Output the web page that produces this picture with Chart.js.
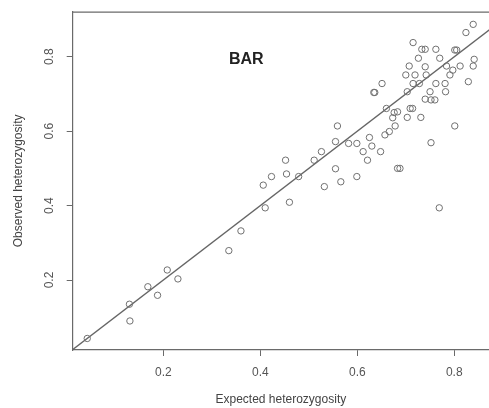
<!DOCTYPE html>
<html>
<head>
<meta charset="utf-8">
<script src="https://cdn.jsdelivr.net/npm/chart.js@4/dist/chart.umd.min.js"></script>
<style>
  html, body { margin: 0; padding: 0; background: #fff; }
  #wrap { width: 489px; height: 408px; }
</style>
</head>
<body>
<div id="wrap"><canvas id="hetChart"></canvas></div>
<script>
// expected vs observed heterozygosity
const expectedHet = [
  0.043, 0.130, 0.131, 0.168, 0.188, 0.208, 0.230, 0.335, 0.360, 0.406,
  0.410, 0.423, 0.452, 0.454, 0.460, 0.479, 0.511, 0.526, 0.532, 0.555,
  0.555, 0.559, 0.566, 0.582, 0.599, 0.599, 0.612, 0.621, 0.625, 0.630,
  0.634, 0.636, 0.648, 0.651, 0.657, 0.660, 0.666, 0.673, 0.678, 0.676,
  0.683, 0.683, 0.688, 0.703, 0.703, 0.700, 0.707, 0.709, 0.714, 0.715,
  0.715, 0.719, 0.726, 0.728, 0.731, 0.733, 0.740, 0.740, 0.742, 0.740,
  0.750, 0.752, 0.752, 0.760, 0.762, 0.762, 0.769, 0.770, 0.781, 0.782,
  0.784, 0.791, 0.797, 0.801, 0.801, 0.805, 0.812, 0.824, 0.829, 0.839,
  0.839, 0.841
];
const observedHet = [
  0.043, 0.135, 0.090, 0.182, 0.159, 0.227, 0.203, 0.279, 0.332, 0.455,
  0.394, 0.478, 0.522, 0.485, 0.409, 0.478, 0.522, 0.545, 0.451, 0.499,
  0.572, 0.614, 0.464, 0.567, 0.567, 0.478, 0.545, 0.522, 0.583, 0.560,
  0.704, 0.704, 0.545, 0.728, 0.590, 0.661, 0.599, 0.636, 0.614, 0.650,
  0.652, 0.500, 0.500, 0.637, 0.706, 0.751, 0.775, 0.661, 0.661, 0.838,
  0.728, 0.751, 0.796, 0.728, 0.637, 0.820, 0.820, 0.773, 0.751, 0.686,
  0.706, 0.569, 0.684, 0.684, 0.820, 0.728, 0.394, 0.796, 0.728, 0.706,
  0.775, 0.751, 0.764, 0.614, 0.818, 0.818, 0.775, 0.865, 0.733, 0.887,
  0.775, 0.793
];
const tickValues = [0.2, 0.4, 0.6, 0.8];
const tickLabels = ['0.2', '0.4', '0.6', '0.8'];
const xRange = [0.013, 0.8716];
const yRange = [0.012, 0.921];
const panelLabel = 'BAR';
const panelLabelAt = [0.371, 0.791];

const points = expectedHet.map((x, i) => ({ x: x, y: observedHet[i] }));
const diagonal = [{ x: 0, y: 0 }, { x: 1, y: 1 }];

const textFont = 'Liberation Sans, Arial, sans-serif';

// box top + rotated y tick labels + panel label (R style)
const extras = {
  id: 'extras',
  afterDraw(chart) {
    const ctx = chart.ctx;
    const area = chart.chartArea;
    const xs = chart.scales.x;
    const ys = chart.scales.y;
    ctx.save();
    ctx.strokeStyle = '#6a6a6a';
    ctx.lineWidth = 1.2;
    ctx.beginPath();
    ctx.moveTo(area.left, area.top + 0.5);
    ctx.lineTo(area.right, area.top + 0.5);
    ctx.stroke();

    ctx.fillStyle = '#555';
    ctx.font = '12px ' + textFont;
    ctx.textAlign = 'center';
    ctx.textBaseline = 'middle';
    tickValues.forEach((v, i) => {
      ctx.save();
      ctx.translate(50, ys.getPixelForValue(v));
      ctx.rotate(-Math.PI / 2);
      ctx.fillText(tickLabels[i], 0, 0);
      ctx.restore();
    });

    ctx.fillStyle = '#222';
    ctx.font = 'bold 16px ' + textFont;
    ctx.fillText(panelLabel, xs.getPixelForValue(panelLabelAt[0]), ys.getPixelForValue(panelLabelAt[1]));
    ctx.restore();
  }
};

const axisGrid = {
  drawOnChartArea: false,
  drawTicks: true,
  tickLength: 6,
  color: '#6a6a6a',
  lineWidth: 1
};
const axisBorder = { display: true, color: '#6a6a6a', width: 1.2 };

new Chart(document.getElementById('hetChart'), {
  type: 'scatter',
  data: {
    datasets: [{
      data: points,
      pointStyle: 'circle',
      pointRadius: 3.2,
      pointBorderWidth: 1,
      pointBorderColor: '#707070',
      pointBackgroundColor: 'rgba(0,0,0,0)',
      pointHoverRadius: 3.2
    }, {
      type: 'line',
      data: diagonal,
      borderColor: '#666',
      borderWidth: 1.3,
      pointRadius: 0,
      fill: false
    }]
  },
  plugins: [extras],
  options: {
    responsive: true,
    maintainAspectRatio: false,
    animation: false,
    events: [],
    layout: { autoPadding: false, padding: { top: 11.7, right: 0, left: 0, bottom: 0 } },
    plugins: {
      legend: { display: false },
      tooltip: { enabled: false }
    },
    scales: {
      x: {
        type: 'linear',
        position: 'bottom',
        min: xRange[0],
        max: xRange[1],
        afterBuildTicks: (s) => { s.ticks = tickValues.map(v => ({ value: v })); },
        afterFit: (s) => { s.height = 58; },
        grid: axisGrid,
        border: axisBorder,
        ticks: {
          autoSkip: false,
          maxRotation: 0,
          padding: 9,
          color: '#555',
          font: { family: textFont, size: 12 },
          callback: (v) => tickLabels[tickValues.indexOf(v)]
        },
        title: {
          display: true,
          text: 'Expected heterozygosity',
          color: '#444',
          font: { family: textFont, size: 12 },
          padding: { top: 0, bottom: 1 }
        }
      },
      y: {
        type: 'linear',
        position: 'left',
        min: yRange[0],
        max: yRange[1],
        afterBuildTicks: (s) => { s.ticks = tickValues.map(v => ({ value: v })); },
        afterFit: (s) => { s.width = 72.7; },
        grid: axisGrid,
        border: axisBorder,
        ticks: { display: false },
        title: {
          display: true,
          text: 'Observed heterozygosity',
          color: '#444',
          font: { family: textFont, size: 12 },
          padding: { top: 11, bottom: 0 }
        }
      }
    }
  }
});
</script>
</body>
</html>
